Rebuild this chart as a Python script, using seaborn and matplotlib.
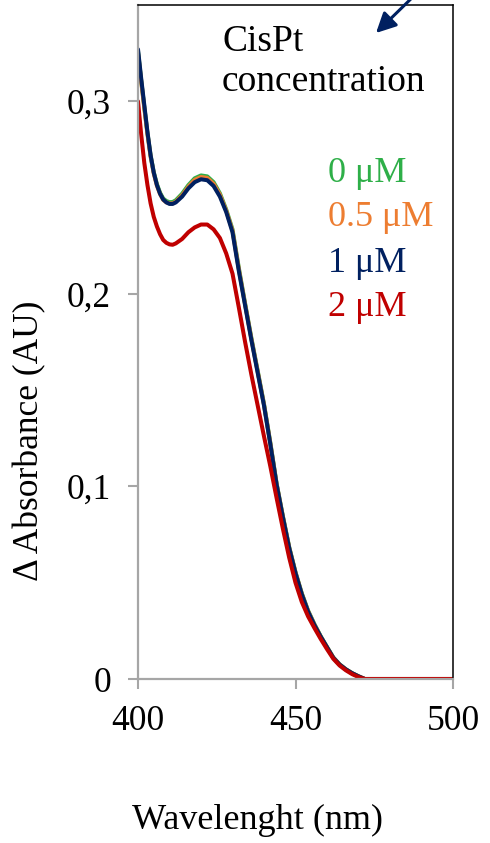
import matplotlib
matplotlib.use("Agg")
import matplotlib.pyplot as plt
import seaborn as sns
import pandas as pd

# ---- data ----
wavelength = [400, 401, 402, 403, 404, 405, 406, 407, 408, 409, 410, 411, 412, 414, 416,
              418, 420, 422, 424, 426, 428, 430, 432, 434, 436, 438, 440, 442, 444, 446,
              448, 450, 452, 454, 456, 458, 460, 462, 464, 466, 468, 470, 472, 480, 490, 500]

abs_0uM = [0.326, 0.311, 0.297, 0.2835, 0.2718, 0.2632, 0.257, 0.2525, 0.2495, 0.2482, 0.2476,
           0.2477, 0.2486, 0.252, 0.2565, 0.26, 0.2615, 0.261, 0.258, 0.2522, 0.2438, 0.2335,
           0.2135, 0.195, 0.177, 0.16, 0.1428, 0.1228, 0.1015, 0.0845, 0.0685, 0.0555, 0.0445,
           0.0355, 0.0285, 0.0222, 0.0166, 0.0112, 0.0076, 0.005, 0.003, 0.0014, 0.0,
           0.0, 0.0, 0.0]
abs_05uM = [0.325, 0.3105, 0.2965, 0.283, 0.2712, 0.2625, 0.2562, 0.2518, 0.2488, 0.2475, 0.247,
            0.247, 0.2479, 0.2512, 0.2557, 0.2592, 0.2607, 0.2602, 0.2572, 0.2515, 0.2432, 0.2328,
            0.2128, 0.1945, 0.1765, 0.1595, 0.1424, 0.1224, 0.1012, 0.0842, 0.0682, 0.0552,
            0.0442, 0.0352, 0.0282, 0.022, 0.0165, 0.0111, 0.0075, 0.005, 0.003, 0.0014, 0.0,
            0.0, 0.0, 0.0]
abs_1uM = [0.327, 0.312, 0.298, 0.284, 0.272, 0.263, 0.2565, 0.252, 0.249, 0.2475, 0.2467,
           0.2467, 0.2475, 0.2505, 0.2548, 0.258, 0.2595, 0.259, 0.256, 0.2505, 0.2425, 0.232,
           0.212, 0.194, 0.176, 0.159, 0.142, 0.122, 0.101, 0.084, 0.068, 0.055, 0.044,
           0.035, 0.028, 0.022, 0.0165, 0.011, 0.0075, 0.005, 0.003, 0.0014, 0.0,
           0.0, 0.0, 0.0]
abs_2uM = [0.300, 0.283, 0.268, 0.2565, 0.247, 0.240, 0.235, 0.231, 0.228, 0.2265, 0.2257,
           0.2255, 0.2262, 0.2285, 0.232, 0.2345, 0.236, 0.236, 0.2335, 0.229, 0.221, 0.2105,
           0.193, 0.175, 0.158, 0.142, 0.126, 0.1105, 0.094, 0.078, 0.063, 0.050, 0.040,
           0.0325, 0.0265, 0.0208, 0.0155, 0.0105, 0.007, 0.0045, 0.0025, 0.001, 0.0,
           0.0, 0.0, 0.0]

series_labels = ["0 μM", "0.5 μM", "1 μM", "2 μM"]
series_colors = ["#2EAF48", "#ED7D31", "#002060", "#C00000"]
x_ticks = [400, 450, 500]
y_ticks = [0, 0.1, 0.2, 0.3]
y_tick_labels = ["0", "0,1", "0,2", "0,3"]

frames = []
for lab, vals in zip(series_labels, [abs_0uM, abs_05uM, abs_1uM, abs_2uM]):
    frames.append(pd.DataFrame({"wavelength": wavelength, "absorbance": vals, "conc": lab}))
df = pd.concat(frames, ignore_index=True)

sns.set_theme(style="white")
plt.rcParams["font.family"] = ["Liberation Serif", "DejaVu Serif"]

W, H = 490, 843
fig = plt.figure(figsize=(W / 100, H / 100), dpi=100)
ax = fig.add_axes([138 / W, 1 - 679 / H, (453 - 138) / W, (679 - 5) / H])

sns.lineplot(data=df, x="wavelength", y="absorbance", hue="conc",
             hue_order=series_labels, palette=dict(zip(series_labels, series_colors)),
             linewidth=2.9, legend=False, ax=ax, sort=False)
for ln in ax.lines:
    ln.set_solid_joinstyle("round")
    ln.set_solid_capstyle("round")

ax.set_xlim(400, 500)
ax.set_ylim(0, 0.35)
ax.set_xticks(x_ticks)
ax.set_xticklabels([str(t) for t in x_ticks])
ax.set_yticks(y_ticks)
ax.set_yticklabels(y_tick_labels)
ax.set_xlabel("")
ax.set_ylabel("")

gray = "#A6A6A6"
for s in ["left", "bottom"]:
    ax.spines[s].set_color(gray)
    ax.spines[s].set_linewidth(1.6)
for s in ["top", "right"]:
    ax.spines[s].set_color("black")
    ax.spines[s].set_linewidth(1.1)
    ax.spines[s].set_visible(True)

ax.tick_params(axis="both", which="major", direction="out", length=7.5, width=1.5,
               color=gray, labelsize=25.5, labelcolor="black")
ax.tick_params(axis="x", pad=11, bottom=True)
ax.tick_params(axis="y", pad=12, left=True)

# axis titles
fig.text(30 / W, 1 - 441 / H, "Δ Absorbance (AU)", rotation=90, ha="center", va="center",
         fontsize=25.5, color="black")
fig.text(257 / W, 1 - 820 / H, "Wavelenght (nm)", ha="center", va="center",
         fontsize=26, color="black")

# annotation text
fig.text(222 / W, 1 - 42 / H, "CisPt", ha="left", va="center", fontsize=27, color="black")
fig.text(222 / W, 1 - 82 / H, "concentration", ha="left", va="center", fontsize=27,
         color="black")

legend_y = [173, 218, 263, 307]
for lab, col, yy in zip(series_labels, series_colors, legend_y):
    fig.text(328 / W, 1 - yy / H, lab, ha="left", va="center", fontsize=26, color=col)

# arrow
ax.annotate("", xy=(376 / W, 1 - 33 / H), xycoords="figure fraction",
            xytext=(420 / W, 1 + 10 / H), textcoords="figure fraction",
            arrowprops=dict(arrowstyle="-|>", color="#002060", lw=2.2, mutation_scale=30,
                            shrinkA=0, shrinkB=0),
            annotation_clip=False)

fig.savefig("out.png", dpi=100)
